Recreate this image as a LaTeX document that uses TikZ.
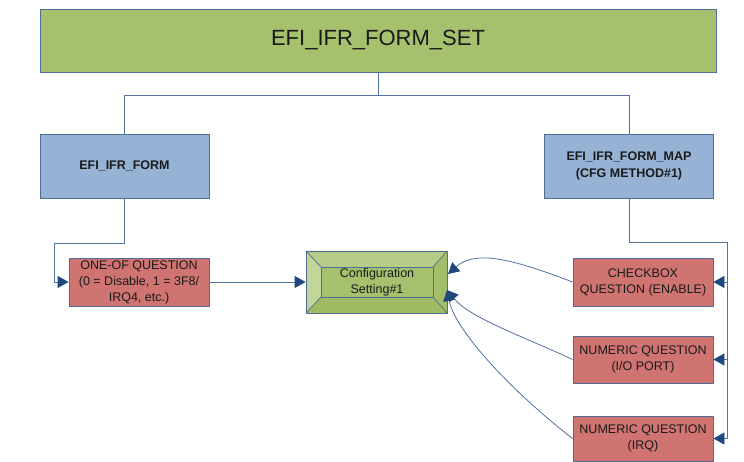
\documentclass[tikz,border=0pt]{standalone}
\usepackage{fontspec}
\setmainfont{Liberation Sans}
\usetikzlibrary{arrows.meta}
\definecolor{topgreen}{HTML}{A6C16E}
\definecolor{bevleft}{HTML}{C2D59B}
\definecolor{bevtop}{HTML}{B6CD88}
\definecolor{bevright}{HTML}{A3BF69}
\definecolor{bevbottom}{HTML}{9FBB64}
\definecolor{boxblue}{HTML}{96B3D6}
\definecolor{boxred}{HTML}{CF7471}
\definecolor{boxline}{HTML}{4F6D96}
\definecolor{linecol}{HTML}{5272A0}
\definecolor{arrowblue}{HTML}{1F497D}
\definecolor{txt}{HTML}{1A1A1A}
\begin{document}
\begin{tikzpicture}[x=1pt,y=-1pt,
  box/.style={draw=boxline, line width=0.8pt, inner sep=0pt, align=center, text=txt},
  bluebox/.style={box, fill=boxblue, minimum width=169, minimum height=64,
     font=\fontsize{12.5}{16.5}\selectfont\bfseries},
  redbox/.style={box, fill=boxred, minimum width=140,
     font=\fontsize{12.5}{16}\selectfont},
  conn/.style={draw=linecol, line width=0.8pt},
  arr/.style={conn, -{Triangle[length=11pt,width=12pt,color=arrowblue]}}]
\useasboundingbox (0,0) rectangle (744,462);
\fill[white] (0,0) rectangle (744,462);

% top box
\node[box, fill=topgreen, minimum width=676, minimum height=63,
      font=\fontsize{22}{26}\selectfont] (top) at (378,40.5) {EFI\_IFR\_FORM\_SET};

% blue boxes
\node[bluebox] (form) at (124.5,166) {EFI\_IFR\_FORM};
\node[bluebox] (map) at (629,166) {EFI\_IFR\_FORM\_MAP\\(CFG METHOD\#1)};

% red boxes
\node[redbox, minimum height=48] (oneof) at (139,282) {ONE-OF QUESTION\\(0 = Disable, 1 = 3F8/\\IRQ4, etc.)};
\node[redbox, minimum height=48] (chk) at (643,282) {CHECKBOX\\QUESTION (ENABLE)};
\node[redbox, minimum height=47] (nio) at (643,359.5) {NUMERIC QUESTION\\(I/O PORT)};
\node[redbox, minimum height=45] (nirq) at (643,438.5) {NUMERIC QUESTION\\(IRQ)};

% configuration box with bevel
\fill[bevleft] (306,251) -- (321,267) -- (321,297) -- (306,313) -- cycle;
\fill[bevtop] (306,251) -- (447,251) -- (433,267) -- (321,267) -- cycle;
\fill[bevright] (447,251) -- (447,313) -- (433,297) -- (433,267) -- cycle;
\fill[bevbottom] (306,313) -- (447,313) -- (433,297) -- (321,297) -- cycle;
\fill[topgreen] (321,267) rectangle (433,297);
\node[draw=boxline, line width=0.8pt, minimum width=141, minimum height=62, inner sep=0pt] (cfg) at (376.5,282) {};
\draw[boxline, line width=0.7pt] (321,267) rectangle (433,297);
\draw[boxline, line width=0.7pt] (306,251) -- (321,267) (447,251) -- (433,267)
   (447,313) -- (433,297) (306,313) -- (321,297);
\node[align=center, text=txt, font=\fontsize{12.5}{16}\selectfont, inner sep=0pt] (cfgtext) at (377,282) {Configuration\\Setting\#1};
\coordinate (cfgA) at (448,274);
\coordinate (cfgB) at (447,290);

% tree connectors
\draw[conn] (top.south) -- ++(0,23) -| (form.north);
\draw[conn] (top.south) -- ++(0,23) -| (map.north);
\coordinate (lj) at (54,243);
\draw[conn] (form.south) |- (lj);
\draw[arr] (lj) |- (oneof.west);
\draw[arr] (oneof.east) -- (cfg.west);
\coordinate (rj) at (727,242);
\draw[conn] (map.south) |- (rj);
\draw[arr] (rj) |- (chk.east);
\draw[arr] (rj) |- (nio.east);
\draw[arr] (rj) |- (nirq.east);

% curved connectors to configuration
\draw[arr] (chk.west) .. controls (510,258) and (475,250) .. (cfgA);
\draw[arr] (nio.west) .. controls (520,335) and (470,318) .. (cfgB);
\draw[arr] (nirq.west) .. controls (510,390) and (455,330) .. (cfgB);
\end{tikzpicture}
\end{document}
